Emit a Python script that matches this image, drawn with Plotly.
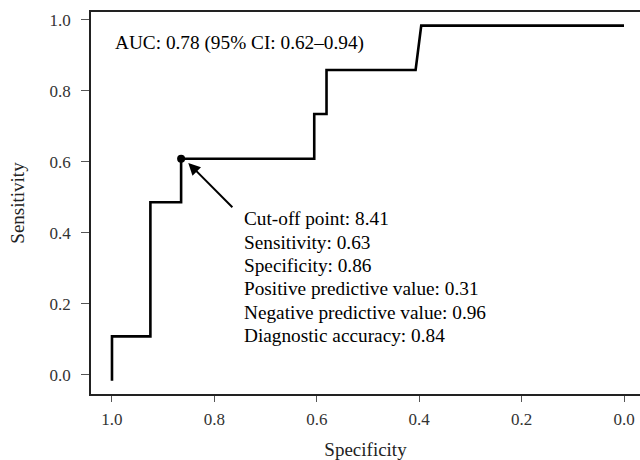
import plotly.graph_objects as go

# ROC curve
specificity = [1.0, 1.0, 0.925, 0.925, 0.865, 0.865, 0.605, 0.605, 0.581, 0.581, 0.407, 0.396, 0.0]
sensitivity = [-0.017, 0.108, 0.108, 0.486, 0.486, 0.609, 0.609, 0.735, 0.735, 0.859, 0.859, 0.984, 0.984]

cutoff_spec = [0.865]
cutoff_sens = [0.609]

x_ticks = [1.0, 0.8, 0.6, 0.4, 0.2, 0.0]
x_tick_labels = ["1.0", "0.8", "0.6", "0.4", "0.2", "0.0"]
y_ticks = [0.0, 0.2, 0.4, 0.6, 0.8, 1.0]
y_tick_labels = ["0.0", "0.2", "0.4", "0.6", "0.8", "1.0"]

auc_text = "AUC: 0.78 (95% CI: 0.62–0.94)"
info_lines = [
    "Cut-off point: 8.41",
    "Sensitivity: 0.63",
    "Specificity: 0.86",
    "Positive predictive value: 0.31",
    "Negative predictive value: 0.96",
    "Diagnostic accuracy: 0.84",
]

FONT = "Liberation Serif, Times New Roman, serif"

fig = go.Figure()
fig.add_trace(go.Scatter(
    x=specificity, y=sensitivity, mode="lines",
    line=dict(color="black", width=2.6), hoverinfo="skip", showlegend=False,
))
fig.add_trace(go.Scatter(
    x=cutoff_spec, y=cutoff_sens, mode="markers",
    marker=dict(color="black", size=8), showlegend=False,
))

fig.add_annotation(
    x=0.998, y=0.936, xref="x", yref="y", text=auc_text, showarrow=False,
    xanchor="left", yanchor="middle", font=dict(family=FONT, size=19.3, color="black"),
)
# info block: one annotation per line to match the tight line spacing
line_top = 0.440
line_step = 0.0659
for i, line in enumerate(info_lines):
    fig.add_annotation(
        x=0.747, y=line_top - i * line_step, xref="x", yref="y", text=line,
        showarrow=False, xanchor="left", yanchor="middle", align="left",
        font=dict(family=FONT, size=19.3, color="black"),
    )
fig.add_annotation(
    x=0.851, y=0.597, ax=0.762, ay=0.468, xref="x", yref="y", axref="x", ayref="y",
    text="", showarrow=True, arrowhead=2, arrowsize=1.2, arrowwidth=2, arrowcolor="black",
)

fig.update_layout(
    width=640, height=460,
    margin=dict(l=91, r=0, t=12, b=66),
    plot_bgcolor="white", paper_bgcolor="white",
    font=dict(family=FONT, size=16, color="#333"),
    xaxis=dict(
        range=[1.041, -0.03125], tickvals=x_ticks, ticktext=x_tick_labels,
        showgrid=False, zeroline=False, showline=True, mirror=True,
        linecolor="#222", linewidth=1.5, ticks="outside", ticklen=6,
        tickcolor="#555", tickwidth=1, ticklabelstandoff=3,
        tickfont=dict(family=FONT, size=17, color="#333"),
        title=dict(text="Specificity", font=dict(family=FONT, size=19, color="#222"), standoff=16),
    ),
    yaxis=dict(
        range=[-0.0544, 1.0225], tickvals=y_ticks, ticktext=y_tick_labels,
        showgrid=False, zeroline=False, showline=True, mirror=False,
        linecolor="#222", linewidth=1.5, ticks="outside", ticklen=8,
        tickcolor="#555", tickwidth=1, ticklabelstandoff=7,
        tickfont=dict(family=FONT, size=17, color="#333"),
        title=dict(text="Sensitivity", font=dict(family=FONT, size=19, color="#222"), standoff=20),
    ),
)

fig.write_html("out.html", config={"displayModeBar": False},
               post_script="document.body.style.margin='0';")
